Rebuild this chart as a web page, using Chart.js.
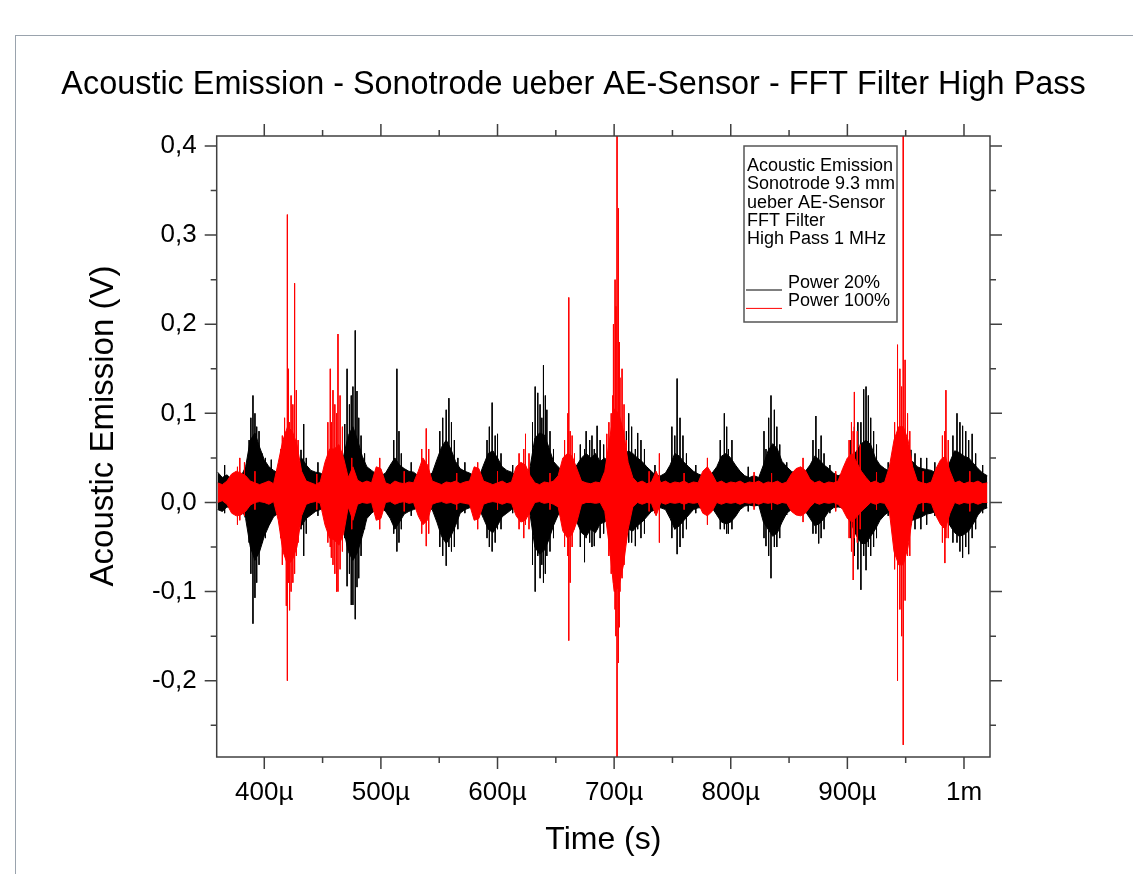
<!DOCTYPE html>
<html>
<head>
<meta charset="utf-8">
<script src="https://cdn.jsdelivr.net/npm/chart.js@4.4.1/dist/chart.umd.min.js"></script>
<style>
    html, body { margin: 0; padding: 0; background: #fff; }
    #wrap { position: relative; width: 1133px; height: 874px; overflow: hidden; }
    #frame { position: absolute; left: 15px; top: 35px; right: 0; bottom: 0; border-top: 1px solid #9aa3ad; border-left: 1px solid #9aa3ad; }
    canvas { position: absolute; left: 0; top: 0; }
</style>
</head>
<body>
<div id="wrap"><div id="frame"></div><canvas id="aeChart" width="1133" height="874"></canvas></div>
<script>
// envelope grid (µs): one value every 4 µs from 360 µs
const t0 = 360;
const dt = 4;

// Power 20% - dense part of the signal, upper / lower edge in mV
const p20Top = [
    34, 28, 31, 26, 32,     // 360 µs
    29, 40, 70, 78, 62,     // 380
    48, 40, 36, 33, 30,     // 400
    32, 30, 38, 50, 42,     // 420
    36, 34, 33, 30, 36,     // 440
    34, 40, 52, 75, 85,     // 460
    70, 52, 40, 36, 32,     // 480
    30, 33, 42, 50, 42,     // 500
    38, 35, 34, 30, 32,     // 520
    30, 33, 48, 62, 70,     // 540
    60, 46, 38, 35, 33,     // 560
    30, 28, 42, 55, 58,     // 580
    50, 40, 36, 34, 30,     // 600
    30, 28, 40, 72, 78,     // 620
    76, 62, 46, 40, 35,     // 640
    35, 34, 42, 50, 55,     // 660
    50, 55, 46, 50, 42,     // 680
    35, 40, 48, 58, 55,     // 700
    50, 46, 40, 35, 30,     // 720
    30, 33, 42, 55, 52,     // 740
    45, 40, 35, 32, 30,     // 760
    30, 33, 40, 52, 55,     // 780
    50, 42, 35, 30, 28,     // 800
    30, 28, 42, 58, 66,     // 820
    60, 46, 40, 35, 32,     // 840
    33, 35, 42, 52, 48,     // 860
    42, 38, 33, 30, 32,     // 880
    42, 50, 58, 66, 70,     // 900
    65, 50, 42, 38, 35,     // 920
    35, 38, 40, 45, 46,     // 940
    40, 38, 37, 36, 33,     // 960
    35, 38, 46, 58, 56,     // 980
    52, 50, 44, 38, 33,     // 1000
    30                      // 1020
];
const p20Bottom = [
    -8, -10, -5, -6, -4,
    -5, -18, -50, -65, -55,
    -38, -26, -16, -12, -8,
    -10, -8, -14, -26, -18,
    -14, -10, -8, -6, -12,
    -10, -16, -30, -55, -65,
    -56, -38, -18, -12, -8,
    -6, -10, -18, -30, -22,
    -13, -10, -8, -6, -8,
    -6, -8, -22, -38, -46,
    -38, -26, -12, -8, -6,
    -5, -6, -18, -30, -34,
    -26, -16, -12, -8, -6,
    -6, -5, -14, -50, -58,
    -54, -42, -26, -14, -10,
    -8, -8, -22, -34, -38,
    -30, -34, -24, -22, -16,
    -10, -14, -22, -30, -32,
    -26, -22, -16, -10, -8,
    -6, -8, -18, -30, -26,
    -20, -14, -8, -6, -6,
    -5, -6, -14, -22, -24,
    -22, -16, -8, -4, -3,
    -4, -3, -22, -30, -38,
    -34, -22, -12, -8, -6,
    -6, -10, -18, -26, -24,
    -18, -10, -6, -5, -6,
    -16, -26, -38, -46, -46,
    -38, -30, -20, -14, -10,
    -10, -14, -16, -20, -20,
    -18, -16, -13, -12, -10,
    -10, -14, -26, -34, -38,
    -36, -32, -24, -14, -8,
    -6
];
// Power 20% - single peaks: time (µs), max (mV), min (mV)
const p20SpikeT = [
    390.3, 392, 433.8, 469, 471, 476, 478, 513.7, 556, 558.3, 595.4, 600, 632.3, 634.5, 639.4, 642.3,
    674.6, 676, 683, 685.4, 712.5, 718.2, 720.2, 752, 754, 794.5, 798, 830.2, 834.5, 837.4, 873, 875.4,
    911.6, 914, 916, 918, 954.5, 994, 998.8, 1004, 1007,
    387, 388.5, 393.5, 395.5, 398, 401, 431.5, 436, 473, 474.6, 479.5, 481, 483, 486,
    511, 515.5, 517.5, 550.5, 553, 560.5, 563, 566, 591, 593, 598, 603,
    630, 636.5, 638, 641, 645, 648, 671, 679, 681, 688, 691, 710.5, 715, 723, 726,
    749.5, 756.5, 759, 762, 791, 796.5, 801, 828.5, 832.5, 839.5, 842, 870.5, 877.5, 880,
    903, 906, 909, 920, 922.5, 925, 958, 963, 968, 990.5, 996.5, 1001.5, 1010,
    366, 406, 446, 526, 572, 613, 656, 735, 770, 815, 848, 885, 935, 975, 1016
];
const p20SpikeMax = [
    120, 100, 88, 88, 150, 130, 193, 150, 104, 117, 112, 77, 130, 123, 154, 104,
    60, 80, 60, 86, 100, 60, 78, 75, 139, 100, 60, 60, 120, 104, 97, 60,
    90, 127, 130, 120, 59, 100, 86, 70, 77,
    70, 95, 85, 80, 55, 50, 59, 50, 110, 120, 125, 95, 75, 55,
    70, 80, 55, 80, 95, 90, 70, 50, 70, 85, 75, 55,
    90, 110, 95, 120, 80, 60, 65, 70, 75, 70, 65, 80, 85, 70, 60,
    85, 95, 75, 55, 70, 85, 70, 80, 95, 85, 65, 70, 75, 55,
    70, 85, 90, 95, 80, 65, 55, 50, 50, 75, 90, 80, 55,
    42, 48, 45, 45, 45, 42, 45, 42, 42, 40, 45, 42, 45, 45, 42
];
const p20SpikeMin = [
    -136, -107, -60, -40, -94, -115, -131, -55, -71, -50, -55, -30, -100, -60, -90, -60,
    -67, -40, -49, -30, -45, -49, -30, -30, -58, -30, -35, -49, -85, -50, -35, -46,
    -98, -60, -76, -50, -25, -45, -62, -58, -40,
    -45, -80, -90, -70, -45, -40, -30, -35, -80, -115, -95, -85, -60, -30,
    -35, -45, -30, -50, -60, -55, -50, -30, -40, -50, -45, -30,
    -70, -85, -70, -80, -55, -40, -50, -45, -50, -40, -35, -40, -45, -40, -35,
    -40, -50, -40, -30, -30, -35, -30, -40, -60, -50, -40, -35, -40, -30,
    -40, -60, -75, -60, -50, -40, -30, -30, -25, -45, -55, -50, -30,
    -12, -20, -15, -15, -12, -12, -15, -12, -12, -10, -14, -12, -15, -15, -12
];

// Power 100%
const p100Top = [
    22, 20, 24, 32, 35,     // 360 µs
    33, 30, 24, 22, 20,     // 380
    22, 24, 21, 45, 70,     // 400
    85, 80, 65, 35, 24,     // 420
    22, 20, 23, 45, 60,     // 440
    60, 65, 50, 28, 40,     // 460
    25, 22, 24, 22, 40,     // 480
    38, 22, 20, 24, 22,     // 500
    21, 23, 22, 35, 50,     // 520
    42, 24, 22, 20, 23,     // 540
    22, 24, 21, 23, 24,     // 560
    40, 38, 24, 22, 20,     // 580
    22, 24, 21, 23, 40,     // 600
    45, 42, 30, 22, 20,     // 620
    23, 22, 24, 30, 50,     // 640
    55, 52, 38, 24, 22,     // 660
    21, 23, 22, 35, 70,     // 680
    105, 100, 80, 45, 28,   // 700
    22, 24, 21, 23, 35,     // 720
    22, 24, 21, 23, 22,     // 740
    24, 21, 23, 22, 35,     // 760
    40, 32, 22, 24, 21,     // 780
    23, 22, 24, 21, 23,     // 800
    22, 24, 21, 23, 22,     // 820
    24, 21, 23, 32, 38,     // 840
    40, 36, 26, 22, 24,     // 860
    21, 23, 22, 24, 38,     // 880
    50, 55, 45, 35, 28,     // 900
    22, 24, 21, 23, 40,     // 920
    70, 85, 85, 70, 40,     // 940
    24, 22, 21, 23, 38,     // 960
    48, 52, 35, 22, 24,     // 980
    21, 23, 22, 24, 21,     // 1000
    22                      // 1020
];
const p100Bottom = [
    0, 2, -2, -12, -15,
    -14, -10, -3, 0, 1,
    0, -2, 1, -20, -55,
    -70, -65, -50, -15, -2,
    0, 1, -1, -25, -40,
    -42, -48, -35, -5, -20,
    -2, 0, -1, 0, -20,
    -18, 0, 1, -2, 0,
    1, -1, 0, -15, -25,
    -20, -2, 0, 1, -1,
    0, -2, 0, -1, -2,
    -20, -18, -2, 0, 1,
    0, -2, 0, -1, -15,
    -22, -20, -10, 0, 1,
    -1, 0, -2, -5, -32,
    -40, -36, -22, -2, 0,
    0, -1, 0, -10, -50,
    -100, -95, -70, -30, -5,
    0, -2, 0, -1, -15,
    0, -2, 0, -1, 0,
    -2, 0, -1, 0, -12,
    -15, -10, 0, -2, 0,
    -1, 0, -2, 0, -1,
    0, -2, 0, -1, 0,
    -2, 0, -1, -10, -14,
    -15, -12, -5, 0, -2,
    0, -1, 0, -2, -8,
    -18, -22, -16, -10, -5,
    0, -2, 0, -1, -10,
    -55, -70, -70, -50, -15,
    -2, 0, 0, -1, -15,
    -25, -30, -12, 0, -2,
    0, -1, 0, -2, 0,
    0
];
const p100SpikeT = [
    377, 379, 383, 417.4, 418.9, 419.8, 420.7, 421.7, 426, 427.5, 456.6, 457.5, 458.9, 462, 463.2,
    475, 499, 538.9, 583, 622.5, 624, 660.3, 661.1, 662.3, 693.7, 698.8, 699.4, 700.8, 702.5, 703.7, 705, 706.8,
    738.8, 780, 862, 905, 906, 943, 947.9, 951.6, 983.6, 984.5,
    414, 415.5, 423, 424.5, 429, 454.5, 460.5, 465, 467, 535, 541, 618.5, 627, 657.5, 664, 666,
    695.5, 697.5, 701.5, 704.5, 708.5, 710.5, 901.5, 903.5, 908.5, 911,
    940.5, 945, 946.5, 949.5, 953.5, 981.5, 986.5,
    392, 445, 520, 565, 600, 645, 730, 760, 820, 835, 890, 925, 965, 1005
];
const p100SpikeMax = [
    40, 50, 45, 95, 80, 323, 150, 90, 246, 126, 150, 90, 126, 100, 189,
    50, 50, 83, 45, 60, 77, 100, 230, 80, 77, 120, 200, 250, 450, 330, 140, 150,
    55, 50, 50, 80, 124, 177, 450, 100, 80, 126,
    60, 75, 120, 110, 70, 90, 110, 120, 85, 60, 60, 55, 55, 70, 75, 55,
    90, 100, 220, 180, 110, 70, 70, 90, 80, 65,
    90, 150, 130, 160, 80, 75, 70,
    35, 32, 35, 33, 35, 33, 35, 33, 34, 33, 35, 34, 35, 35
];
const p100SpikeMin = [
    -25, -20, -15, -50, -116, -200, -90, -121, -80, -60, -50, -62, -70, -100, -100,
    -30, -30, -49, -30, -40, -25, -60, -155, -90, -20, -67, -90, -120, -300, -180, -100, -85,
    -45, -25, -22, -87, -40, -200, -272, -60, -68, -40,
    -40, -70, -100, -90, -45, -45, -80, -75, -55, -35, -35, -30, -30, -50, -50, -30,
    -60, -80, -150, -140, -70, -45, -40, -55, -45, -30,
    -75, -120, -150, -110, -60, -45, -40,
    -8, -8, -10, -8, -8, -8, -10, -8, -8, -8, -10, -8, -10, -10
];

const seriesLabels = ['Power 20%', 'Power 100%'];
const seriesColors = ['#000000', '#ff0000'];
const legendNotes = ['Acoustic Emission', 'Sonotrode 9.3 mm', 'ueber AE-Sensor', 'FFT Filter', 'High Pass 1 MHz'];
const chartTitle = 'Acoustic Emission - Sonotrode ueber AE-Sensor - FFT Filter High Pass';
const yTitle = 'Acoustic Emission (V)';

const xTicks = [400, 500, 600, 700, 800, 900, 1000];
const xMinorTicks = [450, 550, 650, 750, 850, 950];
const yTicks = [-0.2, -0.1, 0, 0.1, 0.2, 0.3, 0.4];
const yMinorTicks = [-0.25, -0.15, -0.05, 0.05, 0.15, 0.25, 0.35];

const FONT = '"Liberation Sans", Arial, sans-serif';

function envelope(mv) {
    return mv.map((v, i) => ({ x: t0 + i * dt, y: v / 1000 }));
}

// vertical strokes, one per peak, broken by gaps
function spikes(ts, hi, lo) {
    const idx = ts.map((t, i) => i).sort((a, b) => ts[a] - ts[b]);
    const pts = [];
    idx.forEach(i => {
        pts.push({ x: ts[i], y: hi[i] / 1000 }, { x: ts[i], y: lo[i] / 1000 }, { x: ts[i], y: null });
    });
    return pts;
}

function seriesSets(label, color, top, bottom, st, smax, smin, order) {
    return [
        { label: label, data: envelope(top), borderColor: color, backgroundColor: color, fill: '+1', order: order + 2 },
        { label: label + ' min', data: envelope(bottom), borderColor: color, fill: false, order: order + 1 },
        { label: label + ' peaks', data: spikes(st, smax, smin), borderColor: color, fill: false, spanGaps: false, order: order }
    ];
}

// Origin-style frame, ticks on all four sides, titles and legend box
const originFrame = {
    id: 'originFrame',
    afterDatasetsDraw(chart) {
        const { ctx, chartArea: a, scales: { x, y } } = chart;
        ctx.save();
        ctx.strokeStyle = '#404040';
        ctx.lineWidth = 1.5;
        ctx.strokeRect(a.left, a.top, a.right - a.left, a.bottom - a.top);

        ctx.beginPath();
        const seg = (x1, y1, x2, y2) => { ctx.moveTo(x1, y1); ctx.lineTo(x2, y2); };
        xTicks.forEach(v => { const p = x.getPixelForValue(v); seg(p, a.bottom, p, a.bottom + 12); seg(p, a.top, p, a.top - 12); });
        xMinorTicks.forEach(v => { const p = x.getPixelForValue(v); seg(p, a.bottom, p, a.bottom + 6); seg(p, a.top, p, a.top - 6); });
        yTicks.forEach(v => { const p = y.getPixelForValue(v); seg(a.left, p, a.left - 12, p); seg(a.right, p, a.right + 12, p); });
        yMinorTicks.forEach(v => { const p = y.getPixelForValue(v); seg(a.left, p, a.left - 6, p); seg(a.right, p, a.right + 6, p); });
        ctx.stroke();

        // title
        ctx.fillStyle = '#000';
        ctx.font = '32.4px ' + FONT;
        ctx.textAlign = 'center';
        ctx.textBaseline = 'alphabetic';
        ctx.fillText(chartTitle, 573.5, 94);

        // y axis title, Origin puts it a bit above the middle
        ctx.save();
        ctx.translate(104, 426);
        ctx.rotate(-Math.PI / 2);
        ctx.font = '33px ' + FONT;
        ctx.textBaseline = 'middle';
        ctx.fillText(yTitle, 0, 0);
        ctx.restore();

        // legend box
        const bx = a.right - 246, by = a.top + 10, bw = 153, bh = 176;
        ctx.fillStyle = '#fff';
        ctx.fillRect(bx, by, bw, bh);
        ctx.strokeStyle = '#555';
        ctx.lineWidth = 1.5;
        ctx.strokeRect(bx, by, bw, bh);
        ctx.font = '18px ' + FONT;
        ctx.textAlign = 'left';
        ctx.fillStyle = '#000';
        legendNotes.forEach((s, i) => ctx.fillText(s, bx + 3, by + 25 + i * 18.3));
        seriesLabels.forEach((label, i) => {
            const base = by + 142 + i * 18.4;
            ctx.strokeStyle = seriesColors[i];
            ctx.lineWidth = 1;
            ctx.beginPath();
            ctx.moveTo(bx + 2, base + 2);
            ctx.lineTo(bx + 38, base + 2);
            ctx.stroke();
            ctx.fillStyle = '#000';
            ctx.fillText(label, bx + 44, base);
        });
        ctx.restore();
    }
};

window.onload = function () {
    const ctx = document.getElementById('aeChart').getContext('2d');

    const datasets = seriesSets(seriesLabels[0], seriesColors[0], p20Top, p20Bottom, p20SpikeT, p20SpikeMax, p20SpikeMin, 4)
        .concat(seriesSets(seriesLabels[1], seriesColors[1], p100Top, p100Bottom, p100SpikeT, p100SpikeMax, p100SpikeMin, 1));

    new Chart(ctx, {
        type: 'line',
        data: { datasets: datasets },
        options: {
            responsive: false,
            animation: false,
            events: [],
            layout: { padding: { left: 81, top: 136, right: 143, bottom: 0 } },
            plugins: { legend: { display: false }, tooltip: { enabled: false } },
            elements: { point: { radius: 0 }, line: { borderWidth: 1, tension: 0 } },
            scales: {
                x: {
                    type: 'linear',
                    min: 359.2,
                    max: 1022.3,
                    afterBuildTicks: s => { s.ticks = xTicks.map(v => ({ value: v })); },
                    afterFit: s => { s.height = 874 - 757; },
                    grid: { display: false, drawTicks: false },
                    border: { display: false },
                    ticks: {
                        padding: 20, color: '#000', maxRotation: 0, autoSkip: false,
                        font: { family: FONT, size: 26 },
                        callback: v => v === 1000 ? '1m' : v + 'µ'
                    },
                    title: { display: true, text: 'Time (s)', color: '#000', font: { family: FONT, size: 32 }, padding: { top: 0, bottom: 15 } }
                },
                y: {
                    type: 'linear',
                    min: -0.2856,
                    max: 0.4112,
                    afterBuildTicks: s => { s.ticks = yTicks.map(v => ({ value: v })); },
                    afterFit: s => { s.width = 216.7 - 81; },
                    grid: { display: false, drawTicks: false },
                    border: { display: false },
                    ticks: {
                        padding: 20, color: '#000', autoSkip: false,
                        font: { family: FONT, size: 26 },
                        callback: v => v.toFixed(1).replace('.', ',')
                    },
                    title: { display: false }
                }
            }
        },
        plugins: [originFrame]
    });
};
</script>
</body>
</html>
